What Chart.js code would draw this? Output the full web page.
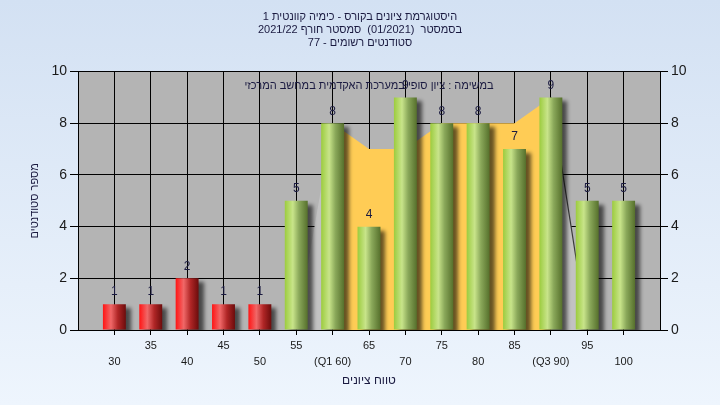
<!DOCTYPE html>
<html>
<head>
<meta charset="utf-8">
<script src="https://cdn.jsdelivr.net/npm/chart.js@4.4.1/dist/chart.umd.min.js"></script>
<style>
	body { margin: 0; }
	#myChart { display: block; background: linear-gradient(to bottom, #d3e1f3, #eef5fd); }
</style>
</head>
<body>
<canvas id="myChart" width="720" height="405"></canvas>
<script>
	// נתונים
	var grades = [ 30, 35, 40, 45, 50, 55, 60, 65, 70, 75, 80, 85, 90, 95, 100 ];
	var tickLabels = [ '30', '35', '40', '45', '50', '55', '(Q1 60)', '65', '70', '75', '80', '85', '(Q3 90)', '95', '100' ];
	var counts = [ 1, 1, 2, 1, 1, 5, 8, 4, 9, 8, 8, 7, 9, 5, 5 ];
	var bandValues = [ 0, 0, 0, 0, 0, 0, 8, 7, 7, 8, 8, 8, 9, 0, 0 ];
	var yTicks = [ 0, 2, 4, 6, 8, 10 ];
	var q1 = 60, q3 = 90, passMark = 55;

	var titleLines = [ 'היסטוגרמת ציונים בקורס - כימיה קוונטית 1',
			'בסמסטר  (01/2021)  סמסטר חורף 2021/22',
			'סטודנטים רשומים - 77' ];
	var subTitle = 'במשימה : ציון סופי במערכת האקדמית במחשב המרכזי';

	var fontFamily = '"Liberation Sans", "DejaVu Sans", Arial, sans-serif';
	var textColor = '#1a1a40';
	var barPct = 0.63;
	var redStops = [ [ 0, '#ff1414' ], [ 0.35, '#f06868' ], [ 0.65, '#b02626' ], [ 1, '#6c0c0c' ] ];
	var greenStops = [ [ 0, '#9ccc3e' ], [ 0.35, '#c8e48a' ], [ 0.62, '#8aa85a' ], [ 1, '#56702c' ] ];

	Chart.defaults.font.family = fontFamily;

	function barFill(c) {
		var fail = grades[c.dataIndex] < passMark;
		var chart = c.chart;
		if (c.type !== 'data' || !chart.chartArea || !chart.scales.x) {
			return fail ? '#e02020' : '#9cc84a';
		}
		var xs = chart.scales.x;
		var g = grades[c.dataIndex];
		var cx = xs.getPixelForValue(g);
		var half = (xs.getPixelForValue(g + 5) - cx) * barPct / 2;
		var grad = chart.ctx.createLinearGradient(cx - half, 0, cx + half, 0);
		(fail ? redStops : greenStops).forEach(function (s) {
			grad.addColorStop(s[0], s[1]);
		});
		return grad;
	}

	var plotBg = {
		id : 'plotBg',
		beforeDraw : function (chart) {
			var a = chart.chartArea, ctx = chart.ctx;
			ctx.save();
			ctx.fillStyle = '#b4b4b4';
			ctx.fillRect(a.left, a.top, a.right - a.left, a.bottom - a.top);
			ctx.restore();
		}
	};

	var barShadow = {
		id : 'barShadow',
		beforeDatasetDraw : function (chart, args) {
			if (args.meta.type !== 'bar') return;
			var ctx = chart.ctx;
			ctx.save();
			ctx.shadowColor = 'rgba(0, 0, 0, 0.6)';
			ctx.shadowBlur = 4;
			ctx.shadowOffsetX = 5;
			ctx.shadowOffsetY = 4;
		},
		afterDatasetDraw : function (chart, args) {
			if (args.meta.type !== 'bar') return;
			chart.ctx.restore();
		}
	};

	var valueLabels = {
		id : 'valueLabels',
		afterDatasetsDraw : function (chart) {
			var ctx = chart.ctx, a = chart.chartArea;
			var meta = chart.getDatasetMeta(1);
			ctx.save();
			ctx.font = '12px ' + fontFamily;
			ctx.fillStyle = textColor;
			ctx.textAlign = 'center';
			ctx.textBaseline = 'middle';
			meta.data.forEach(function (bar, i) {
				ctx.fillText(String(counts[i]), bar.x, bar.y - 12);
			});
			ctx.font = '11px ' + fontFamily;
			ctx.fillText(subTitle, (a.left + a.right) / 2, a.top + 14);
			ctx.restore();
		}
	};

	function setTicks(list) {
		return function (scale) {
			scale.ticks = list.map(function (v) { return { value : v }; });
		};
	}

	var ctx = document.getElementById('myChart');
	var myChart = new Chart(ctx, {
		type : 'bar',
		data : {
			datasets : [ {
				type : 'line',
				order : 2,
				data : grades.map(function (g, i) { return { x : g, y : bandValues[i] }; }),
				fill : 'origin',
				backgroundColor : '#c2c2c2',
				borderColor : 'rgba(0, 0, 0, 0)',
				borderWidth : 1.2,
				pointRadius : 0,
				tension : 0,
				segment : {
					backgroundColor : function (s) {
						return grades[s.p0DataIndex] >= q1 && grades[s.p1DataIndex] <= q3 ? '#ffcc55' : undefined;
					},
					borderColor : function (s) {
						return grades[s.p0DataIndex] === q3 ? '#3a3a3a' : undefined;
					}
				}
			}, {
				type : 'bar',
				order : 1,
				data : grades.map(function (g, i) { return { x : g, y : counts[i] }; }),
				backgroundColor : barFill,
				borderWidth : 0,
				barPercentage : barPct,
				categoryPercentage : 1
			} ]
		},
		options : {
			responsive : false,
			animation : false,
			devicePixelRatio : 1,
			layout : { padding : 0 },
			plugins : {
				legend : { display : false },
				tooltip : { enabled : false },
				title : {
					display : true,
					text : titleLines,
					color : textColor,
					font : { size : 11, weight : 'normal', lineHeight : 1.2 },
					padding : { top : 10, bottom : 22 }
				}
			},
			scales : {
				x : {
					type : 'linear',
					min : 25,
					max : 105,
					offset : false,
					afterBuildTicks : setTicks(grades),
					afterFit : function (s) { s.height = 75; },
					grid : { color : '#000', offset : false, tickLength : 5 },
					border : { color : '#000' },
					ticks : {
						autoSkip : false,
						maxRotation : 0,
						color : '#1a1a1a',
						padding : 3,
						font : { size : 11, lineHeight : 1.45 },
						callback : function (v) {
							var i = grades.indexOf(v);
							if (i < 0) return '';
							return i % 2 === 0 ? [ '', tickLabels[i] ] : [ tickLabels[i] ];
						}
					},
					title : {
						display : true,
						text : 'טווח ציונים',
						color : textColor,
						font : { size : 12 },
						padding : { top : 0, bottom : 17 }
					}
				},
				y : {
					position : 'left',
					min : 0,
					max : 10,
					afterBuildTicks : setTicks(yTicks),
					afterFit : function (s) { s.width = 78; },
					grid : { color : '#000', tickLength : 8 },
					border : { color : '#000' },
					ticks : { color : '#1a1a1a', padding : 3, font : { size : 14 } },
					title : {
						display : true,
						text : 'מספר סטודנטים',
						color : textColor,
						font : { size : 11 },
						padding : { top : 28, bottom : 0 }
					}
				},
				y2 : {
					position : 'right',
					min : 0,
					max : 10,
					afterBuildTicks : setTicks(yTicks),
					afterFit : function (s) { s.width = 60; },
					grid : { color : '#000', tickLength : 8, drawOnChartArea : false },
					border : { color : '#000' },
					ticks : { color : '#1a1a1a', padding : 3, font : { size : 14 } }
				}
			}
		},
		plugins : [ plotBg, barShadow, valueLabels ]
	});
</script>
</body>
</html>
